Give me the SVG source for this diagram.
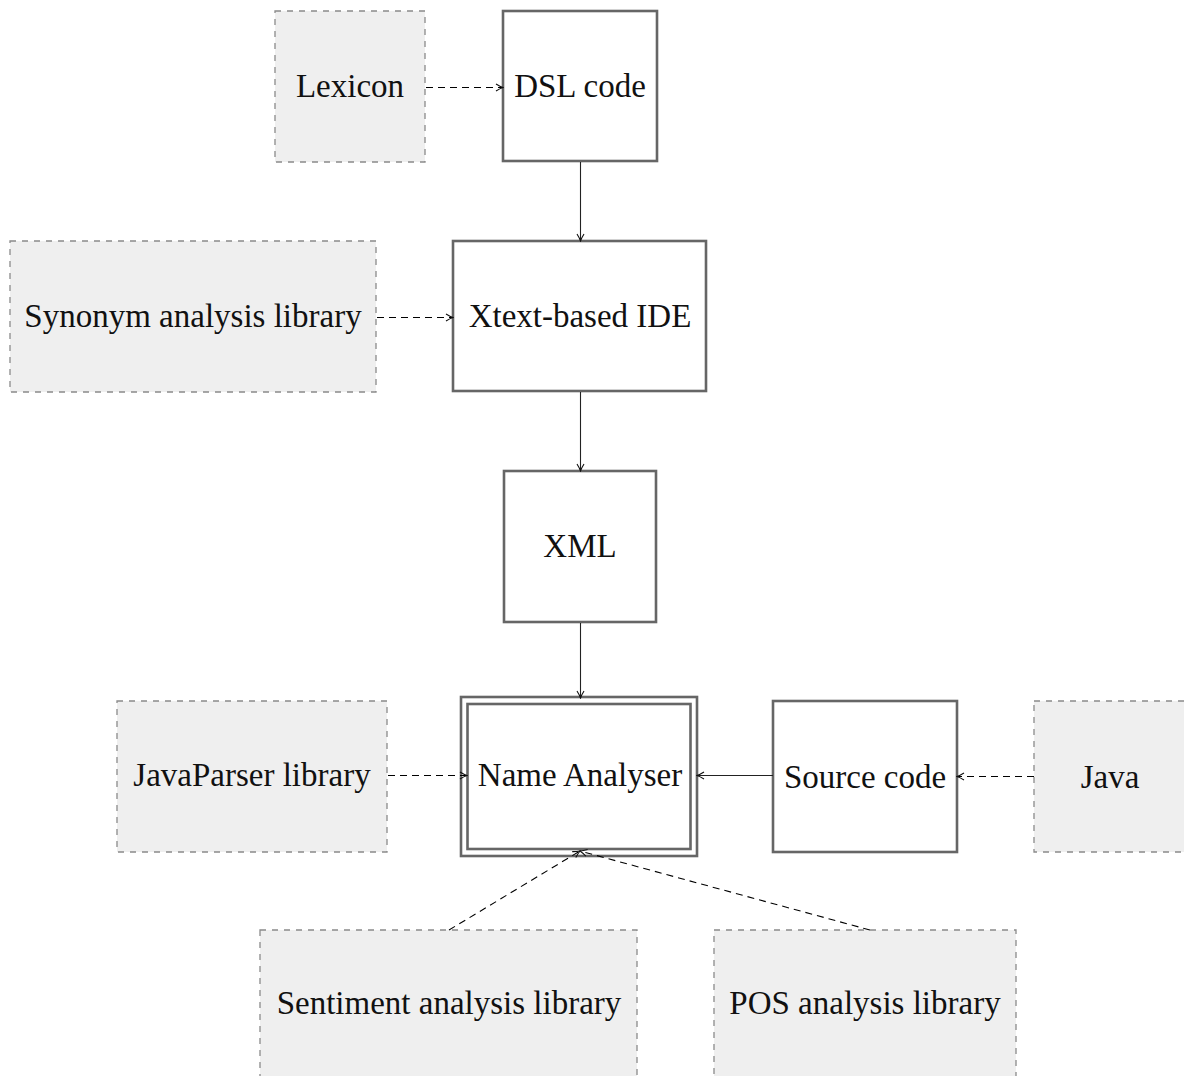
<svg xmlns="http://www.w3.org/2000/svg" width="1184" height="1076" viewBox="0 0 1184 1076">
<style>
.lib{fill:#efefef;stroke:#8a8a8a;stroke-width:1.3;stroke-dasharray:6 6}
.box{fill:#fff;stroke:#666;stroke-width:2.6}
.t{font-family:"Liberation Serif","DejaVu Serif",serif;font-size:33px;fill:#111;text-anchor:middle}
.solid{fill:none;stroke:#222;stroke-width:1.1}
.dash{fill:none;stroke:#000;stroke-width:1.1;stroke-dasharray:7 5}
</style>
<defs>
<marker id="ah" viewBox="0 0 10 10" refX="9" refY="5" markerWidth="10" markerHeight="10" markerUnits="userSpaceOnUse" orient="auto">
<path d="M2,1.5 Q6,4 9,5 Q6,6 2,8.5" fill="none" stroke="#111" stroke-width="1.1"/>
</marker>
</defs>
<rect width="1184" height="1076" fill="#fff"/>
<g id="lexicon"><rect class="lib" x="275" y="11" width="150" height="151"/><text class="t" x="350" y="97">Lexicon</text></g>
<g id="dsl"><rect class="box" x="503" y="11" width="154" height="150"/><text class="t" x="580" y="97">DSL code</text></g>
<g id="synonym"><rect class="lib" x="10" y="241" width="366" height="151"/><text class="t" x="193" y="327">Synonym analysis library</text></g>
<g id="xtext"><rect class="box" x="453" y="241" width="253" height="150"/><text class="t" x="580" y="327">Xtext-based IDE</text></g>
<g id="xml"><rect class="box" x="504" y="471" width="152" height="151"/><text class="t" x="580" y="557">XML</text></g>
<g id="javaparser"><rect class="lib" x="117" y="701" width="270" height="151"/><text class="t" x="252" y="786">JavaParser library</text></g>
<g id="nameanalyser"><rect class="box" x="461" y="697" width="236" height="159"/><rect class="box" x="467.5" y="704" width="223" height="145"/><text class="t" x="580" y="786">Name Analyser</text></g>
<g id="source"><rect class="box" x="773" y="701" width="184" height="151"/><text class="t" x="865" y="788">Source code</text></g>
<g id="java"><rect class="lib" x="1034" y="701" width="160" height="151"/><text class="t" x="1110" y="788">Java</text></g>
<g id="sentiment"><rect class="lib" x="260" y="930" width="377" height="160"/><text class="t" x="449" y="1014">Sentiment analysis library</text></g>
<g id="pos"><rect class="lib" x="714" y="930" width="302" height="160"/><text class="t" x="865" y="1014">POS analysis library</text></g>
<g id="connectors">
<line class="dash" x1="426" y1="87.5" x2="503" y2="87.5" marker-end="url(#ah)"/>
<line class="solid" x1="580.5" y1="162" x2="580.5" y2="241" marker-end="url(#ah)"/>
<line class="dash" x1="377" y1="317.5" x2="453" y2="317.5" marker-end="url(#ah)"/>
<line class="solid" x1="580.5" y1="392" x2="580.5" y2="471" marker-end="url(#ah)"/>
<line class="solid" x1="580.5" y1="623" x2="580.5" y2="698" marker-end="url(#ah)"/>
<line class="dash" x1="388" y1="775.5" x2="467" y2="775.5" marker-end="url(#ah)"/>
<line class="solid" x1="773" y1="775.5" x2="697" y2="775.5" marker-end="url(#ah)"/>
<line class="dash" x1="1034" y1="776.5" x2="957" y2="776.5" marker-end="url(#ah)"/>
<line class="dash" x1="449" y1="930" x2="580" y2="851" marker-end="url(#ah)"/>
<line class="dash" x1="870" y1="930" x2="580" y2="851" marker-end="url(#ah)"/>
</g>
</svg>
